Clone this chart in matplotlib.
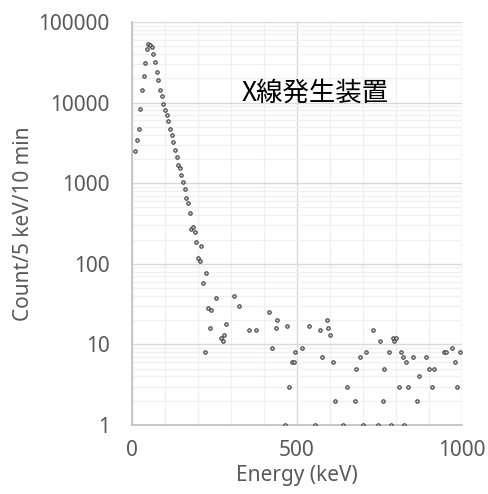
import matplotlib
matplotlib.use("Agg")
import matplotlib.pyplot as plt
from matplotlib.ticker import FixedLocator, NullFormatter, LogLocator

plt.rcParams['font.family'] = ['Noto Sans', 'Noto Sans CJK JP', 'DejaVu Sans']

# spectrum, 5 keV bins (empty bins are not shown on the log axis)
energy = [10, 15, 20, 25, 30, 35, 40, 45, 50, 55, 60, 65, 70, 75, 80, 85, 90, 95,
          100, 105, 110, 115, 120, 125, 130, 135, 140, 145, 150, 155, 160, 165, 170,
          175, 180, 185, 190, 195, 200, 205, 210, 215, 220, 225, 230, 235, 240, 255,
          270, 275, 280, 285, 310, 325, 355, 375, 415, 425, 435, 440, 465, 470, 475,
          485, 490, 495, 515, 535, 555, 570, 575, 590, 595, 600, 610, 615, 640, 650,
          675, 680, 690, 700, 710, 730, 745, 750, 760, 765, 780, 785, 790, 795, 800,
          810, 815, 820, 825, 830, 835, 850, 865, 870, 890, 900, 910, 915, 945, 950,
          970, 980, 985, 995]
counts = [2490, 3435, 4660, 8400, 14200, 21400, 30700, 46600, 53300, 52300, 49400,
          40400, 31900, 24000, 18900, 14450, 11970, 9690, 8090, 6950, 5960, 4745,
          3930, 3245, 2605, 2133, 1697, 1544, 1264, 1035, 847, 655, 568, 427, 273,
          286, 250, 185, 118, 109, 165, 58, 8, 77, 28, 16, 27, 38, 12, 11, 13, 18,
          40, 30, 15, 15, 25, 9, 16, 20, 1, 17, 3, 6, 6, 8, 9, 17, 1, 15, 7, 20, 16,
          13, 6, 2, 1, 3, 2, 5, 7, 1, 8, 15, 1, 11, 2, 5, 8, 1, 12, 11, 12, 3, 8, 7,
          1, 6, 3, 7, 2, 4, 7, 5, 3, 5, 8, 8, 9, 6, 3, 8]

x_ticks = [0, 500, 1000]
y_ticks = [1, 10, 100, 1000, 10000, 100000]
label_text = "X線発生装置"

fig = plt.figure(figsize=(4.89, 4.94), dpi=100)
ax = fig.add_axes([132 / 489, 1 - 425 / 494, 330 / 489, 403 / 494])

ax.plot(energy, counts, linestyle='none', marker='o', markersize=2.5,
        markerfacecolor='#c8c8c8', markeredgecolor='#303030', markeredgewidth=0.7,
        zorder=3)

ax.set_yscale('log')
ax.set_xlim(0, 1000)
ax.set_ylim(1, 100000)

ax.xaxis.set_major_locator(FixedLocator(x_ticks))
ax.xaxis.set_minor_locator(FixedLocator(range(100, 1000, 100)))
ax.yaxis.set_major_locator(FixedLocator(y_ticks))
ax.yaxis.set_minor_locator(LogLocator(base=10, subs=range(2, 10)))
ax.yaxis.set_minor_formatter(NullFormatter())
ax.set_xticklabels([str(v) for v in x_ticks])
ax.set_yticklabels([str(v) for v in y_ticks])

ax.grid(True, which='major', color='#d9d9d9', linewidth=1.0)
ax.grid(True, which='minor', color='#f0f0f0', linewidth=1.0)
ax.set_axisbelow(True)

for side in ['top', 'right']:
    ax.spines[side].set_visible(False)
for side in ['left', 'bottom']:
    ax.spines[side].set_color('#bfbfbf')
    ax.spines[side].set_linewidth(1.2)

ax.tick_params(which='both', length=0, colors='#595959', labelsize=15)
ax.tick_params(axis='y', pad=16)
ax.tick_params(axis='x', pad=11)

ax.set_xlabel('Energy (keV)', fontsize=15, color='#595959', labelpad=3)
ax.set_ylabel('Count/5 keV/10 min', fontsize=15, color='#595959', labelpad=3)

ax.text(0.555, 0.824, label_text, transform=ax.transAxes, fontsize=19,
        ha='center', va='center', color='black',
        family=['Noto Sans CJK JP', 'DejaVu Sans'])

fig.savefig('out.png', dpi=100)
